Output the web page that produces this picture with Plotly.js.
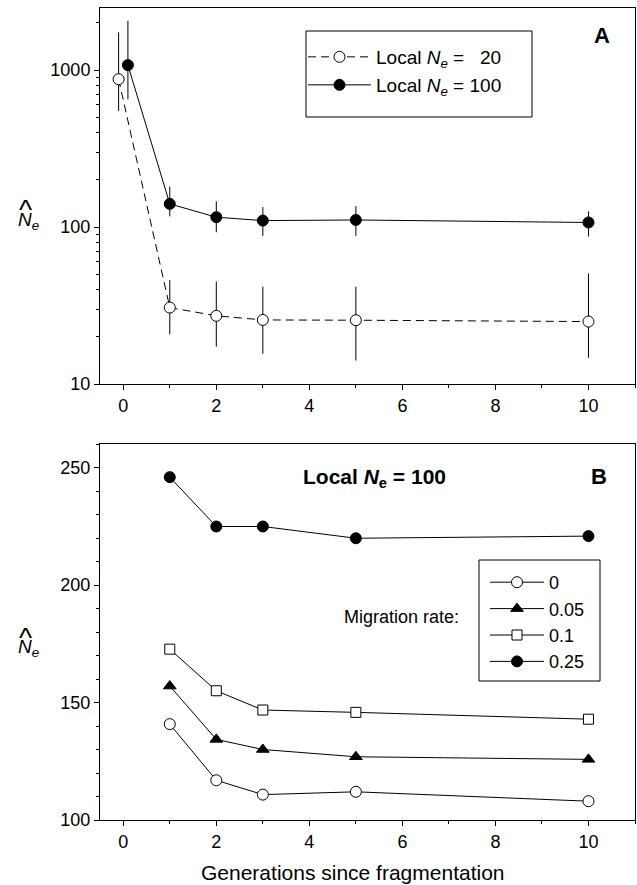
<!DOCTYPE html>
<html>
<head>
<meta charset="utf-8">
<script src="https://cdn.plot.ly/plotly-3.0.1.min.js"></script>
<style>html,body{margin:0;padding:0;background:#fff;}#chart{width:637px;height:885px;}</style>
</head>
<body>
<div id="chart"></div>
<script>
// Panel A data
const xA20 = [-0.1, 1, 2, 3, 5, 10];
const yA20 = [876, 30.7, 27.2, 25.6, 25.5, 25.0];
const yA20hi = [1742, 45.9, 45.0, 41.7, 41.7, 50.7];
const yA20lo = [550, 20.7, 17.3, 15.6, 14.1, 14.7];

const xA100 = [0.1, 1, 2, 3, 5, 10];
const yA100 = [1077, 140.6, 115.6, 110, 111, 107];
const yA100hi = [2065, 181, 146, 134, 136, 126];
const yA100lo = [653, 117, 92.7, 88, 88, 87];

// Panel B data
const xB = [1, 2, 3, 5, 10];
const yB0 = [140.8, 116.9, 110.8, 112, 108];
const yB005 = [157, 134.3, 130, 126.9, 125.8];
const yB01 = [172.7, 155, 146.8, 145.8, 142.9];
const yB025 = [245.9, 224.9, 224.9, 219.9, 220.8];

const migLabels = ['0', '0.05', '0.1', '0.25'];
const xTickVals = [0, 2, 4, 6, 8, 10];
const yATickVals = [10, 100, 1000];
const yBTickVals = [100, 150, 200, 250];

const FONT = 'Liberation Sans, Arial, Helvetica, sans-serif';
const up = (y, hi) => hi.map((v, i) => v - y[i]);
const dn = (y, lo) => lo.map((v, i) => y[i] - v);

const logMinor = [];
[10, 100, 1000].forEach(d => { for (let k = 2; k <= 9; k++) logMinor.push(k * d); });

const traces = [
  {
    x: xA20, y: yA20, type: 'scatter', mode: 'lines+markers',
    name: 'Local <i>N</i><sub><i>e</i></sub> =&nbsp;&nbsp;&nbsp;20',
    line: {color: '#000', width: 1, dash: '8px,5px'},
    marker: {symbol: 'circle', size: 11, color: '#fff', line: {color: '#000', width: 1}},
    error_y: {type: 'data', symmetric: false, array: up(yA20, yA20hi), arrayminus: dn(yA20, yA20lo), width: 0, thickness: 1, color: '#000'},
    xaxis: 'x', yaxis: 'y', legend: 'legend'
  },
  {
    x: xA100, y: yA100, type: 'scatter', mode: 'lines+markers',
    name: 'Local <i>N</i><sub><i>e</i></sub> = 100',
    line: {color: '#000', width: 1},
    marker: {symbol: 'circle', size: 11, color: '#000', line: {color: '#000', width: 1}},
    error_y: {type: 'data', symmetric: false, array: up(yA100, yA100hi), arrayminus: dn(yA100, yA100lo), width: 0, thickness: 1, color: '#000'},
    xaxis: 'x', yaxis: 'y', legend: 'legend3'
  }
];

const bSeries = [
  {y: yB0, symbol: 'circle', size: 11, fill: '#fff'},
  {y: yB005, symbol: 'triangle-up', size: 11, fill: '#000'},
  {y: yB01, symbol: 'square', size: 10, fill: '#fff'},
  {y: yB025, symbol: 'circle', size: 11, fill: '#000'}
];
bSeries.forEach((s, i) => {
  traces.push({
    x: xB, y: s.y, type: 'scatter', mode: 'lines+markers',
    name: migLabels[i],
    line: {color: '#000', width: 1},
    marker: {symbol: s.symbol, size: s.size, color: s.fill, line: {color: '#000', width: 1}},
    xaxis: 'x2', yaxis: 'y2', legend: 'legend2'
  });
});

const axisCommon = {
  showline: true, linecolor: '#000', linewidth: 1, mirror: true,
  ticks: 'outside', ticklen: 5, tickwidth: 1, tickcolor: '#000',
  showgrid: false, zeroline: false,
  tickfont: {family: FONT, size: 18, color: '#000'}
};

const py = p => (820 - p) / 812;   // pixel -> paper y
const px = p => (p - 100) / 535;   // pixel -> paper x

const legendBase = {
  xanchor: 'left', yanchor: 'top', borderwidth: 0, bgcolor: 'rgba(0,0,0,0)',
  traceorder: 'normal'
};

const layout = {
  width: 637, height: 885,
  margin: {l: 100, r: 2, t: 8, b: 65},
  paper_bgcolor: '#fff', plot_bgcolor: '#fff',
  font: {family: FONT, color: '#000', size: 18},
  xaxis: Object.assign({}, axisCommon, {
    domain: [0, 1], anchor: 'y', range: [-0.5, 11],
    tickmode: 'array', tickvals: xTickVals,
    minor: {dtick: 1, tick0: 0, ticklen: 3, tickcolor: '#000', tickwidth: 1, ticks: 'outside'}
  }),
  yaxis: Object.assign({}, axisCommon, {
    domain: [py(384), 1], anchor: 'x', type: 'log', range: [1, Math.log10(2490)],
    tickmode: 'array', tickvals: yATickVals, ticktext: yATickVals.map(String),
    minor: {tickmode: 'array', tickvals: logMinor, ticklen: 3, tickcolor: '#000', tickwidth: 1, ticks: 'outside'}
  }),
  xaxis2: Object.assign({}, axisCommon, {
    domain: [0, 1], anchor: 'y2', range: [-0.5, 11],
    tickmode: 'array', tickvals: xTickVals,
    minor: {dtick: 1, tick0: 0, ticklen: 3, tickcolor: '#000', tickwidth: 1, ticks: 'outside'}
  }),
  yaxis2: Object.assign({}, axisCommon, {
    domain: [0, py(444)], anchor: 'x2', range: [100, 260],
    tickmode: 'array', tickvals: yBTickVals,
    minor: {dtick: 10, tick0: 100, ticklen: 3, tickcolor: '#000', tickwidth: 1, ticks: 'outside'}
  }),
  legend: Object.assign({}, legendBase, {
    x: px(303), y: py(38), itemwidth: 63,
    font: {family: FONT, size: 19, color: '#000'}
  }),
  legend3: Object.assign({}, legendBase, {
    x: px(303), y: py(66), itemwidth: 63,
    font: {family: FONT, size: 19, color: '#000'}
  }),
  legend2: Object.assign({}, legendBase, {
    x: px(485), y: py(564), itemwidth: 54,
    font: {family: FONT, size: 18, color: '#000'}
  }),
  showlegend: true,
  shapes: [
    {type: 'rect', xref: 'paper', yref: 'paper', x0: px(306), x1: px(532), y0: py(117), y1: py(31),
     line: {color: '#000', width: 1}, fillcolor: 'rgba(0,0,0,0)', layer: 'above'},
    {type: 'rect', xref: 'paper', yref: 'paper', x0: px(479), x1: px(600), y0: py(681), y1: py(560),
     line: {color: '#000', width: 1}, fillcolor: 'rgba(0,0,0,0)', layer: 'above'}
  ],
  annotations: [
    {xref: 'paper', yref: 'paper', x: px(612), y: py(36), xanchor: 'right', yanchor: 'middle', showarrow: false,
     text: '<b>A</b>', font: {family: FONT, size: 22, color: '#000'}},
    {xref: 'paper', yref: 'paper', x: px(609), y: py(476), xanchor: 'right', yanchor: 'middle', showarrow: false,
     text: '<b>B</b>', font: {family: FONT, size: 22, color: '#000'}},
    {xref: 'paper', yref: 'paper', x: px(301), y: py(478), xanchor: 'left', yanchor: 'middle', showarrow: false,
     text: '<b>Local <i>N</i><sub>e</sub> = 100</b>', font: {family: FONT, size: 21, color: '#000'}},
    {xref: 'paper', yref: 'paper', x: px(342), y: py(617), xanchor: 'left', yanchor: 'middle', showarrow: false,
     text: 'Migration rate:', font: {family: FONT, size: 18, color: '#000'}},
    {xref: 'paper', yref: 'paper', x: px(353), y: py(872), xanchor: 'center', yanchor: 'middle', showarrow: false,
     text: 'Generations since fragmentation', font: {family: FONT, size: 21, color: '#000'}},
    // y-axis labels (N-hat sub e)
    {xref: 'paper', yref: 'paper', x: px(16), y: py(221), xanchor: 'left', yanchor: 'middle', showarrow: false,
     text: '<i>N</i><sub><i>e</i></sub>', font: {family: FONT, size: 19, color: '#000'}},
    {xref: 'paper', yref: 'paper', x: px(25.5), y: py(210), xanchor: 'center', yanchor: 'middle', showarrow: false,
     text: '^', font: {family: FONT, size: 28, color: '#000'}},
    {xref: 'paper', yref: 'paper', x: px(16), y: py(648), xanchor: 'left', yanchor: 'middle', showarrow: false,
     text: '<i>N</i><sub><i>e</i></sub>', font: {family: FONT, size: 19, color: '#000'}},
    {xref: 'paper', yref: 'paper', x: px(25.5), y: py(637), xanchor: 'center', yanchor: 'middle', showarrow: false,
     text: '^', font: {family: FONT, size: 28, color: '#000'}}
  ]
};

Plotly.newPlot('chart', traces, layout, {displayModeBar: false, staticPlot: true});
</script>
</body>
</html>
